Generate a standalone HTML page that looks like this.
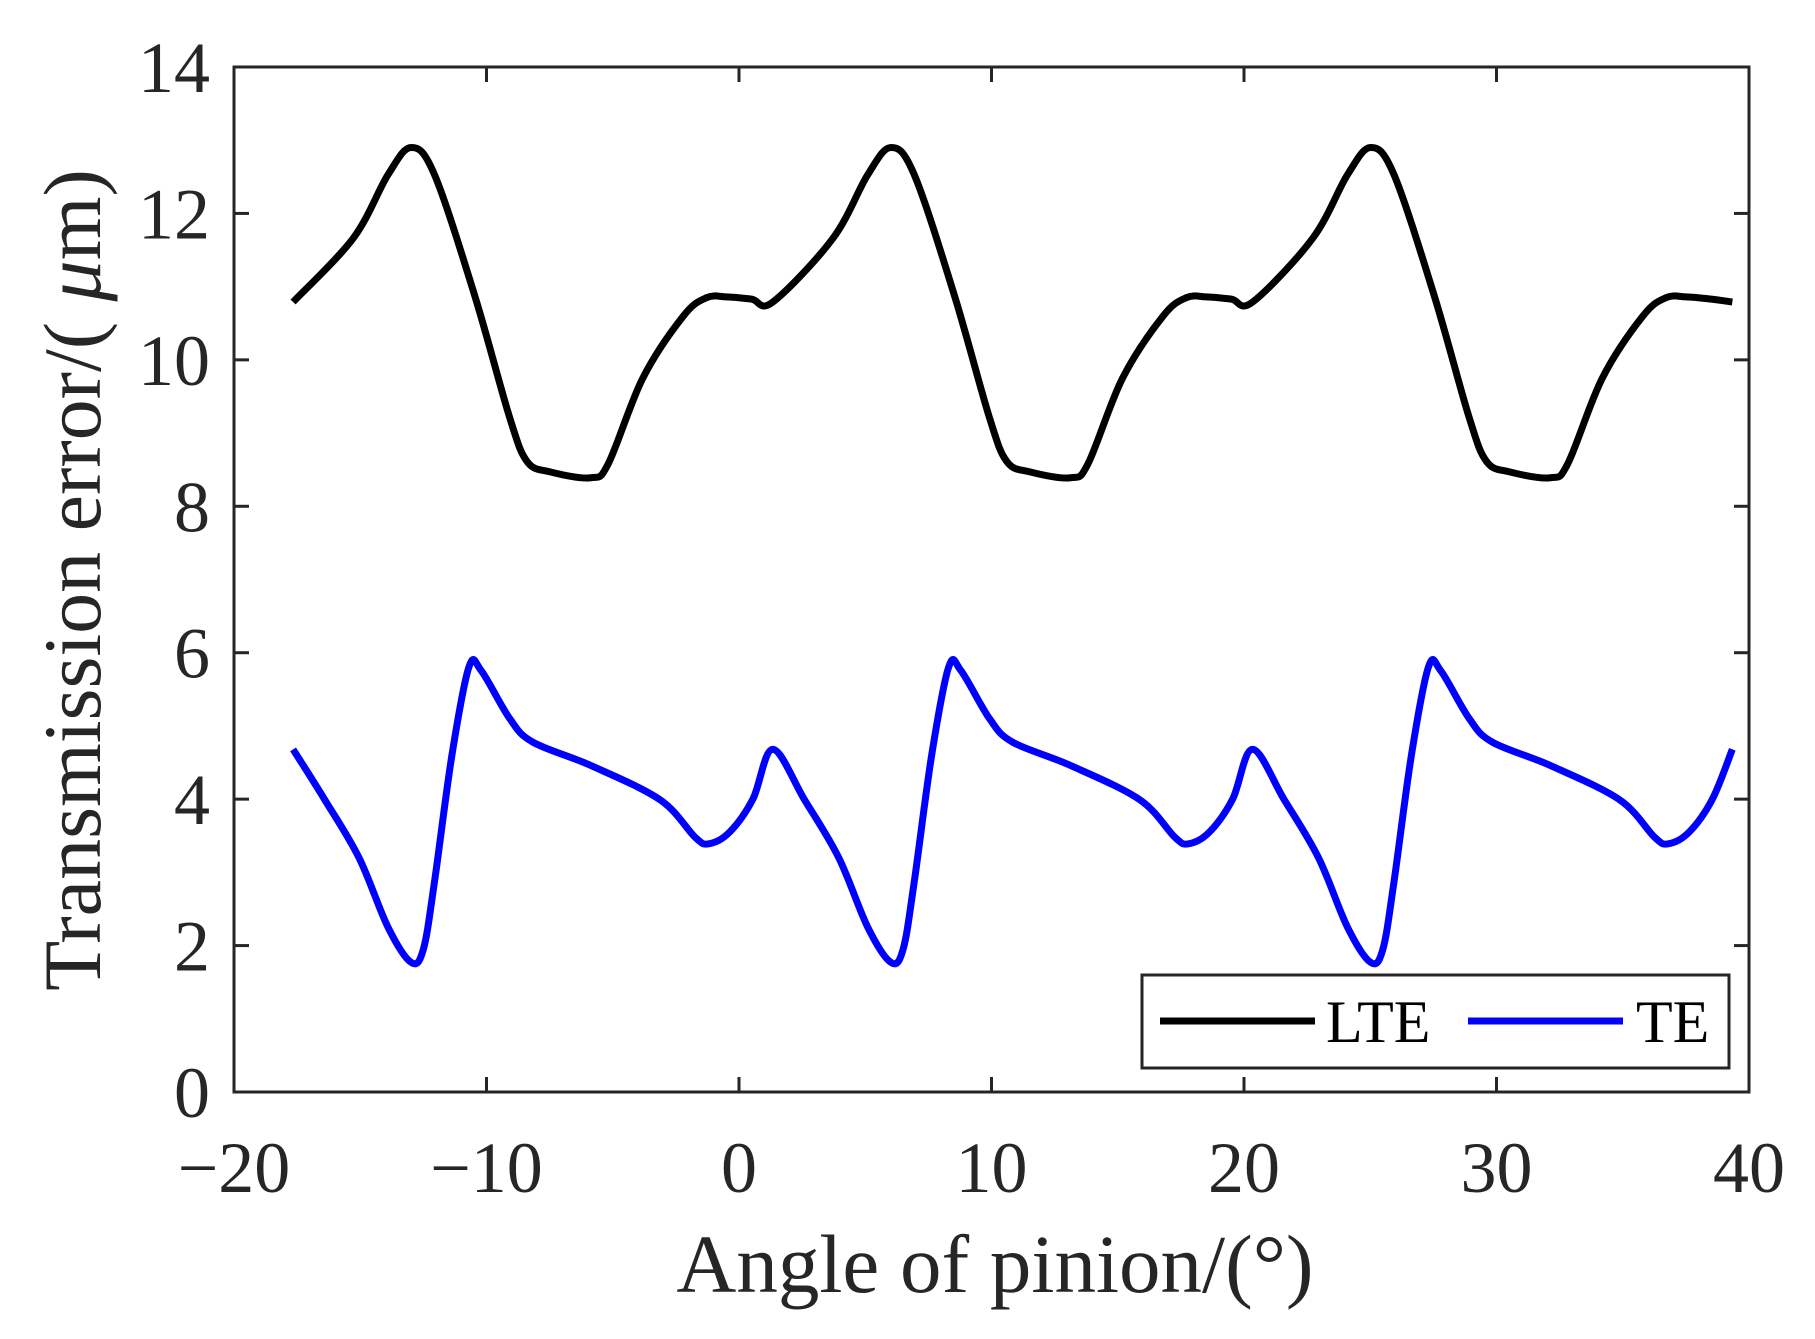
<!DOCTYPE html>
<html><head><meta charset="utf-8"><style>
html,body{margin:0;padding:0;background:#fff;}
svg{display:block;font-family:"Liberation Serif",serif;}
</style></head><body>
<svg id="s" width="1815" height="1339" xmlns="http://www.w3.org/2000/svg">
<rect width="1815" height="1339" fill="#fff"/>
<g id="plot"></g>
<rect x="234" y="67" width="1515" height="1025" fill="none" stroke="#262626" stroke-width="3"/>
<g id="ticks" stroke="#262626" stroke-width="3"></g>
<g id="lbl" fill="#262626" font-size="72"></g>
<text x="995" y="1292" font-size="83" fill="#262626" text-anchor="middle">Angle of pinion/(°)</text>
<text transform="translate(100,580) rotate(-90)" font-size="82" fill="#262626" text-anchor="middle">Transmission error/( <tspan font-style="italic">μ</tspan>m)</text>
<rect x="1142" y="975" width="587" height="93" fill="#fff" stroke="#262626" stroke-width="3"/>
<line x1="1160" y1="1021" x2="1315" y2="1021" stroke="#000" stroke-width="7"/>
<text x="1326" y="1042" font-size="60" fill="#000">LTE</text>
<line x1="1468" y1="1021" x2="1623" y2="1021" stroke="#00f" stroke-width="7"/>
<text x="1636" y="1042" font-size="60" fill="#000">TE</text>
</svg>
<script>
const X=x=>234+(x+20)*1515/60, Y=y=>1092-y*1025/14;
const lte=[[-17.66,10.79],[-15.28,11.66],[-13.9,12.53],[-12.98,12.9],[-12.06,12.53],[-10.46,10.87],[-9.08,9.21],[-8.39,8.61],[-7.48,8.47],[-5.87,8.39],[-5.18,8.58],[-3.81,9.75],[-2.2,10.6],[-1.28,10.85],[-0.5,10.86],[0.5,10.83]];
const te=[[-17.66,4.68],[-16.42,4.0],[-15.05,3.2],[-13.9,2.25],[-12.98,1.77],[-12.5,1.95],[-12.06,2.87],[-11.37,4.6],[-10.69,5.81],[-10.2,5.75],[-9.08,5.1],[-8.17,4.78],[-5.87,4.46],[-3.12,3.99],[-1.74,3.48],[-1.2,3.39],[-0.37,3.55],[0.55,4.0]];
function rep(a,endX){let o=[];for(let k=0;k<3;k++)a.forEach(p=>o.push([p[0]+19*k,p[1]]));o.push([endX,a[0][1]]);return o;}
function path(pts){pts=pts.map(p=>[X(p[0]),Y(p[1])]);let d="M"+pts[0];for(let i=0;i<pts.length-1;i++){const p0=pts[i-1]||pts[i],p1=pts[i],p2=pts[i+1],p3=pts[i+2]||p2;const c1=[p1[0]+(p2[0]-p0[0])/6,p1[1]+(p2[1]-p0[1])/6],c2=[p2[0]-(p3[0]-p1[0])/6,p2[1]-(p3[1]-p1[1])/6];d+="C"+c1+" "+c2+" "+p2;}return d;}
const l=rep(lte,39.34), t=rep(te,39.34);
const g=document.getElementById("plot");
g.innerHTML='<path d="'+path(l)+'" fill="none" stroke="#000" stroke-width="7" stroke-linejoin="round"/><path d="'+path(t)+'" fill="none" stroke="#00f" stroke-width="7" stroke-linejoin="round"/>';
let tk="",lb="";
for(let x=-20;x<=40;x+=10){const px=X(x);tk+=`<line x1="${px}" y1="1092" x2="${px}" y2="1077"/><line x1="${px}" y1="67" x2="${px}" y2="82"/>`;lb+=`<text x="${px}" y="1192" text-anchor="middle">${x<0?"\u2212"+(-x):x}</text>`;}
for(let y=0;y<=14;y+=2){const py=Y(y);tk+=`<line x1="234" y1="${py}" x2="249" y2="${py}"/><line x1="1749" y1="${py}" x2="1734" y2="${py}"/>`;lb+=`<text x="210" y="${py+25}" text-anchor="end">${y}</text>`;}
document.getElementById("ticks").innerHTML=tk;document.getElementById("lbl").innerHTML=lb;
</script>
</body></html>
